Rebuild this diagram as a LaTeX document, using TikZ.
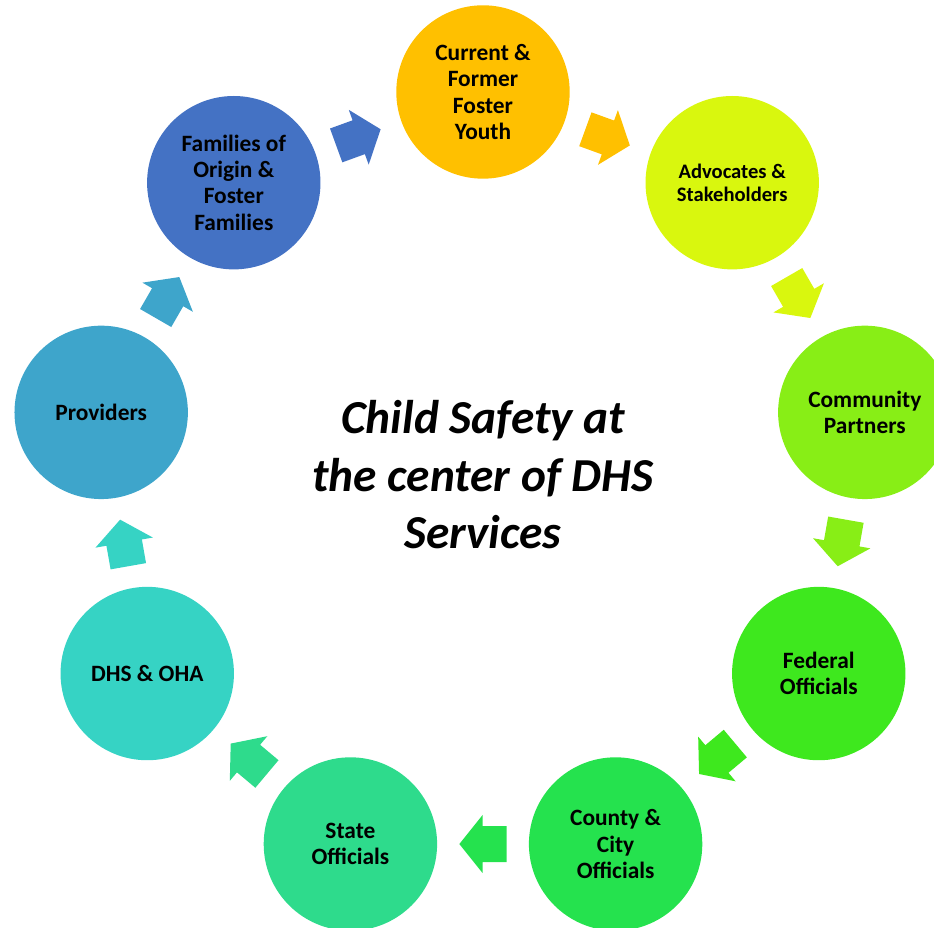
\documentclass[tikz,border=0pt]{standalone}
\usepackage{fontspec}
\setmainfont{Carlito}
\usetikzlibrary{calc}
\definecolor{cA}{HTML}{FFC000}
\definecolor{cB}{RGB}{217,247,14}
\definecolor{cC}{RGB}{136,238,22}
\definecolor{cD}{RGB}{62,232,30}
\definecolor{cE}{RGB}{37,226,78}
\definecolor{cF}{RGB}{46,219,140}
\definecolor{cG}{RGB}{54,211,196}
\definecolor{cH}{RGB}{62,165,203}
\definecolor{cI}{HTML}{4472C4}
\newcommand{\blockarr}[3]{\fill[#1, shift={(#2)}, rotate=#3] (-23.65,-18) -- (0.35,-18) -- (0.35,-29.15) -- (23.65,0) -- (0.35,29.15) -- (0.35,18) -- (-23.65,18) -- cycle;}
\begin{document}
\begin{tikzpicture}[x=1pt,y=1pt,
  bubble/.style={circle, minimum size=173.4pt, inner sep=0pt, align=center,
    font=\bfseries\fontsize{23.4}{26.3}\selectfont, text=black},
  smalltext/.style={font=\bfseries\fontsize{20.6}{23.3}\selectfont},
  titletext/.style={align=center, font=\bfseries\itshape\fontsize{47.3}{57.5}\selectfont}]
\clip (0,0) rectangle (934,928);
\coordinate (C) at (483,448.3);
\node[bubble, fill=cA] (n0) at ($(C)+(90:387.7)$) {Current \&\\Former\\Foster\\Youth};
\node[bubble, smalltext, fill=cB] (n1) at ($(C)+(50:387.7)$) {Advocates \&\\Stakeholders};
\node[bubble, fill=cC] (n2) at ($(C)+(10:387.7)$) {Community\\Partners};
\node[bubble, fill=cD] (n3) at ($(C)+(-30:387.7)$) {Federal\\Officials};
\node[bubble, fill=cE] (n4) at ($(C)+(-70:387.7)$) {County \&\\City\\Officials};
\node[bubble, fill=cF] (n5) at ($(C)+(-110:387.7)$) {State\\Officials};
\node[bubble, fill=cG] (n6) at ($(C)+(-150:387.7)$) {DHS \& OHA};
\node[bubble, fill=cH] (n7) at ($(C)+(170:387.7)$) {Providers};
\node[bubble, fill=cI] (n8) at ($(C)+(130:387.7)$) {Families of\\Origin \&\\Foster\\Families};
\coordinate (m0) at ($(n0)!0.5!(n1)$);
\coordinate (m1) at ($(n1)!0.5!(n2)$);
\coordinate (m2) at ($(n2)!0.5!(n3)$);
\coordinate (m3) at ($(n3)!0.5!(n4)$);
\coordinate (m4) at ($(n4)!0.5!(n5)$);
\coordinate (m5) at ($(n5)!0.5!(n6)$);
\coordinate (m6) at ($(n6)!0.5!(n7)$);
\coordinate (m7) at ($(n7)!0.5!(n8)$);
\coordinate (m8) at ($(n8)!0.5!(n0)$);
\blockarr{cA}{m0}{-20}
\blockarr{cB}{m1}{-60}
\blockarr{cC}{m2}{-100}
\blockarr{cD}{m3}{-140}
\blockarr{cE}{m4}{-180}
\blockarr{cF}{m5}{140}
\blockarr{cG}{m6}{100}
\blockarr{cH}{m7}{60}
\blockarr{cI}{m8}{20}
\node[titletext] (title) at (483,453) {Child Safety at\\the center of DHS\\Services};
\end{tikzpicture}
\end{document}
